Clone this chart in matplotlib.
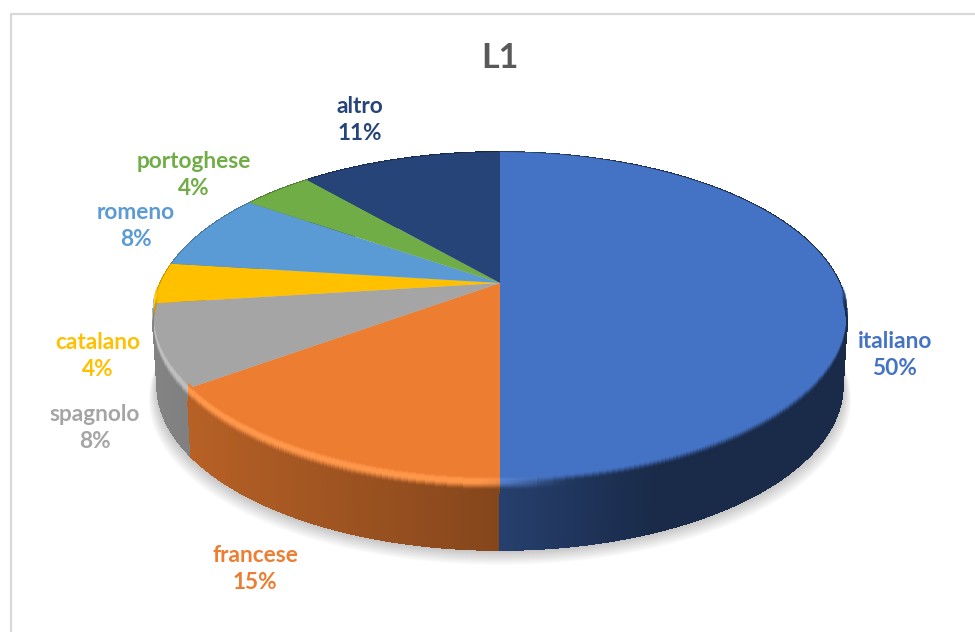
import numpy as np
import matplotlib
matplotlib.use("Agg")
import matplotlib.pyplot as plt
from matplotlib.collections import PolyCollection
from matplotlib.colors import to_rgb
from matplotlib.path import Path
from matplotlib.transforms import Affine2D, Transform

plt.rcParams['font.family'] = ['Lato', 'DejaVu Sans']

# ---- data
title = "L1"
languages = ["italiano", "francese", "spagnolo", "catalano", "romeno", "portoghese", "altro"]
shares = [50, 15, 8, 4, 7.6, 4, 11.4]
colors = ["#4472C4", "#ED7D31", "#A5A5A5", "#FFC000", "#5B9BD5", "#70AD47", "#264478"]
label_x = [895, 255, 95, 98, 136, 194, 360]
label_y = [355, 569, 428, 356, 226, 175, 120]

# ---- perspective of the tilted disc (output in pixels)
CX, CY = 500.0, 283.0
AX_, AY_, PERSP = 339.6, -99.7, 0.206
DEPTH = 68.0


class TiltedDisc(Transform):
    input_dims = output_dims = 2
    is_affine = False

    def transform_non_affine(self, values):
        v = np.asarray(values, float)
        den = 1 + PERSP * v[:, 1]
        return np.column_stack([CX + AX_ * v[:, 0] / den,
                                (CY + AY_ * v[:, 1]) / den])

    def transform_path_non_affine(self, path):
        # flatten curves finely before bending them
        polys = path.to_polygons(transform=Affine2D().scale(3000), closed_only=True)
        pts = np.vstack(polys) / 3000
        return Path(self.transform_non_affine(pts), closed=True)


disc = TiltedDisc()


def rim(theta_deg, dy=0.0, shrink=1.0):
    t = np.radians(theta_deg)
    p = disc.transform_non_affine(np.column_stack([np.cos(t), np.sin(t)]))
    p[:, 0] = CX + (p[:, 0] - CX) * shrink
    p[:, 1] += dy
    return p


def strips(a, b):
    return np.stack([a[:-1], a[1:], b[1:], b[:-1]], axis=1)


def side_gain(x):
    return np.interp(x, [150, 500, 650, 850], [0.80, 0.56, 0.38, 0.38])


def smooth(x):
    x = np.clip(x, 0, 1)
    return x * x * (3 - 2 * x)


fig = plt.figure(figsize=(9.75, 6.32), dpi=100)
ax = fig.add_axes([0, 0, 1, 1])

wedges, _ = ax.pie(shares, colors=colors, startangle=90, counterclock=False, radius=1)
ax.set_aspect('auto')
ax.set_xlim(0, 975)
ax.set_ylim(632, 0)
ax.axis('off')

# chart frame
ax.plot([10.5, 10.5, 980], [640, 13.5, 13.5], color="#D9D9D9", lw=1.6, zorder=0, clip_on=False)

# soft shadow below the body
all_t = np.linspace(0, 360, 361)
for off, grow in zip(np.linspace(15, 2, 14), np.linspace(1.012, 0.99, 14)):
    ax.add_patch(plt.Polygon(rim(all_t, DEPTH + off, grow), closed=True, fc="black", ec="none",
                             alpha=0.017, zorder=1))

# side wall of every slice, shaded along x; back slices first
for w, col in reversed(list(zip(wedges, colors))):
    base = np.array(to_rgb(col))
    t = np.linspace(w.theta1, w.theta2, max(8, int(w.theta2 - w.theta1)))
    quads = strips(rim(t), rim(t, DEPTH, 0.988))
    xm = quads[:, :, 0].mean(axis=1)
    fc = np.clip(side_gain(xm)[:, None] * base, 0, 1)
    ax.add_collection(PolyCollection(quads, facecolors=fc, edgecolors=fc, linewidths=0.6,
                                     antialiaseds=False, zorder=2))
    w.set_transform(disc + ax.transData)
    w.set_zorder(3)
    w.set_clip_on(False)
    w.set_edgecolor("none")

# rounded bevel between top face and side wall (front half only)
levels = np.arange(-6, 13, 1.0)
for w, col in zip(wedges, colors):
    base = np.array(to_rgb(col))
    t = np.linspace(w.theta1, w.theta2, max(8, int(2 * (w.theta2 - w.theta1))))
    mid = (t[:-1] + t[1:]) / 2
    fade = smooth((-np.sin(np.radians(mid)) - 0.02) / 0.25)
    xmid = rim(mid)[:, 0]
    glow = (1 - smooth((xmid - 470) / 110))[:, None]   # highlight only left of the front
    wall = side_gain(xmid)[:, None] * base
    hi = np.clip(base + 0.10, 0, 1)
    for k in range(len(levels) - 1):
        d = (levels[k] + levels[k + 1]) / 2
        quads = strips(rim(t, levels[k]), rim(t, levels[k + 1]))
        s1 = smooth((d + 5) / 4.0)
        s2 = smooth((d - 1) / 8.0)
        s3 = smooth((d + 5) / 8.0)
        lit = (base * (1 - s1) + hi * s1)[None, :] * (1 - s2) + wall * s2
        dark = base[None, :] * (1 - s3) + wall * s3
        rgb = np.clip(lit * glow + dark * (1 - glow), 0, 1)
        rgba = np.column_stack([rgb, fade])
        ax.add_collection(PolyCollection(quads, facecolors=rgba, edgecolors="none",
                                         antialiaseds=False, zorder=4))

# labels
for name, value, col, x, y in zip(languages, shares, colors, label_x, label_y):
    ax.text(x, y, f"{name}\n{value:.0f}%", color=col, ha="center", va="center",
            fontsize=16.3, fontweight="bold", linespacing=1.38, zorder=6)

ax.text(500, 58, title, color="#595959", ha="center", va="center",
        fontsize=24.5, fontweight="bold", zorder=6)

fig.savefig("out.png", dpi=100, facecolor="white")
